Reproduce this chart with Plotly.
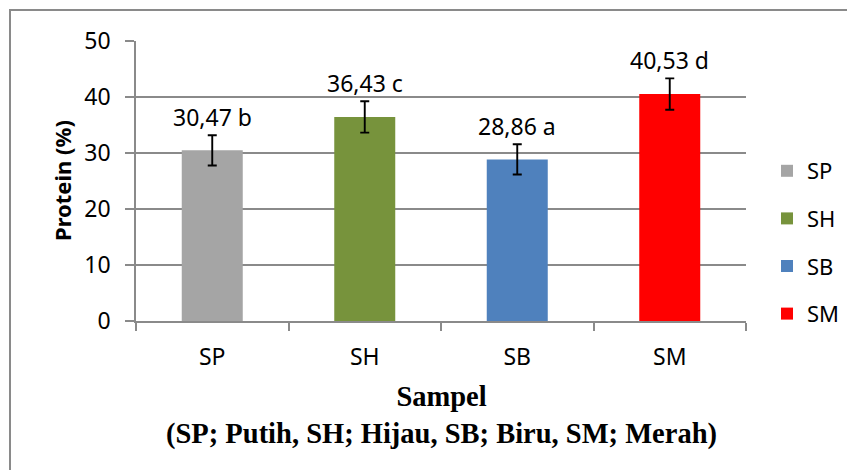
import plotly.graph_objects as go

categories = ["SP", "SH", "SB", "SM"]
protein = [30.47, 36.43, 28.86, 40.53]
errors = [2.7, 2.8, 2.7, 2.8]
letters = ["b", "c", "a", "d"]
colors = ["#A5A5A5", "#77933C", "#4F81BD", "#FF0000"]
y_ticks = [0, 10, 20, 30, 40, 50]

OFF = 8  # default page body margin
W, H = 855 - OFF, 470 - OFF
L, R, T, B = 136 - OFF, 109, 41 - OFF, 149
pw, ph = W - L - R, H - T - B

def px_x(p):
    return (p - OFF - L) / pw

def px_y(p):
    return (H - B - (p - OFF)) / ph

GRID = "#8a8a8a"
SANS = "Noto Sans"

fig = go.Figure()
for i, c in enumerate(categories):
    fig.add_trace(go.Bar(
        x=[c], y=[protein[i]], name=c, width=0.4,
        marker=dict(color=colors[i], line=dict(width=0)),
        error_y=dict(type="data", array=[errors[i]], visible=True,
                     color="black", thickness=1.9, width=4.5),
        legendgroup=c,
    ))
    label = f"{protein[i]:.2f}".replace(".", ",") + " " + letters[i]
    fig.add_annotation(x=c, y=protein[i] + errors[i], text=label,
                       showarrow=False, yanchor="bottom", yshift=0,
                       font=dict(family=SANS, size=23, color="black"))

fig.add_annotation(xref="paper", yref="paper", x=0.5, y=px_y(415),
                   text="<b>Sampel</b><br><b>(SP; Putih, SH; Hijau, SB; Biru, SM; Merah)</b>",
                   showarrow=False, xanchor="center", yanchor="middle",
                   font=dict(family="Liberation Serif", size=28.5, color="black"))

fig.add_annotation(xref="paper", yref="paper", x=px_x(62), y=0.5,
                   text="<b>Protein (%)</b>", textangle=-90, showarrow=False,
                   xanchor="center", yanchor="middle",
                   font=dict(family=SANS, size=22, color="black"))

fig.add_shape(type="rect", xref="paper", yref="paper",
              x0=px_x(10), x1=px_x(880), y0=px_y(490), y1=px_y(10),
              line=dict(color=GRID, width=2), fillcolor="rgba(0,0,0,0)", layer="below")

fig.update_layout(
    width=W, height=H,
    margin=dict(l=L, r=R, t=T, b=B, autoexpand=False),
    paper_bgcolor="white", plot_bgcolor="white",
    barmode="overlay",
    showlegend=True,
    legend=dict(x=px_x(767), y=px_y(150), xanchor="left", yanchor="top",
                font=dict(family=SANS, size=22, color="black"),
                tracegroupgap=16, bgcolor="rgba(0,0,0,0)"),
    xaxis=dict(categoryorder="array", categoryarray=categories,
               range=[-0.5, 3.5], showline=True, linecolor=GRID, linewidth=1.5,
               ticks="outside", tickson="boundaries", ticklen=8, tickcolor=GRID,
               tickwidth=1.5, showgrid=False,
               tickfont=dict(family=SANS, size=23, color="black"),
               ticklabelstandoff=15),
    yaxis=dict(range=[0, 50], tickvals=y_ticks, showline=True, linecolor=GRID,
               linewidth=1.5, ticks="outside", ticklen=9, tickcolor=GRID,
               tickwidth=1.5, showgrid=True, gridcolor=GRID, gridwidth=1.5,
               zeroline=False,
               tickfont=dict(family=SANS, size=23, color="black"),
               ticklabelstandoff=10),
)

fig.write_html("out.html")
